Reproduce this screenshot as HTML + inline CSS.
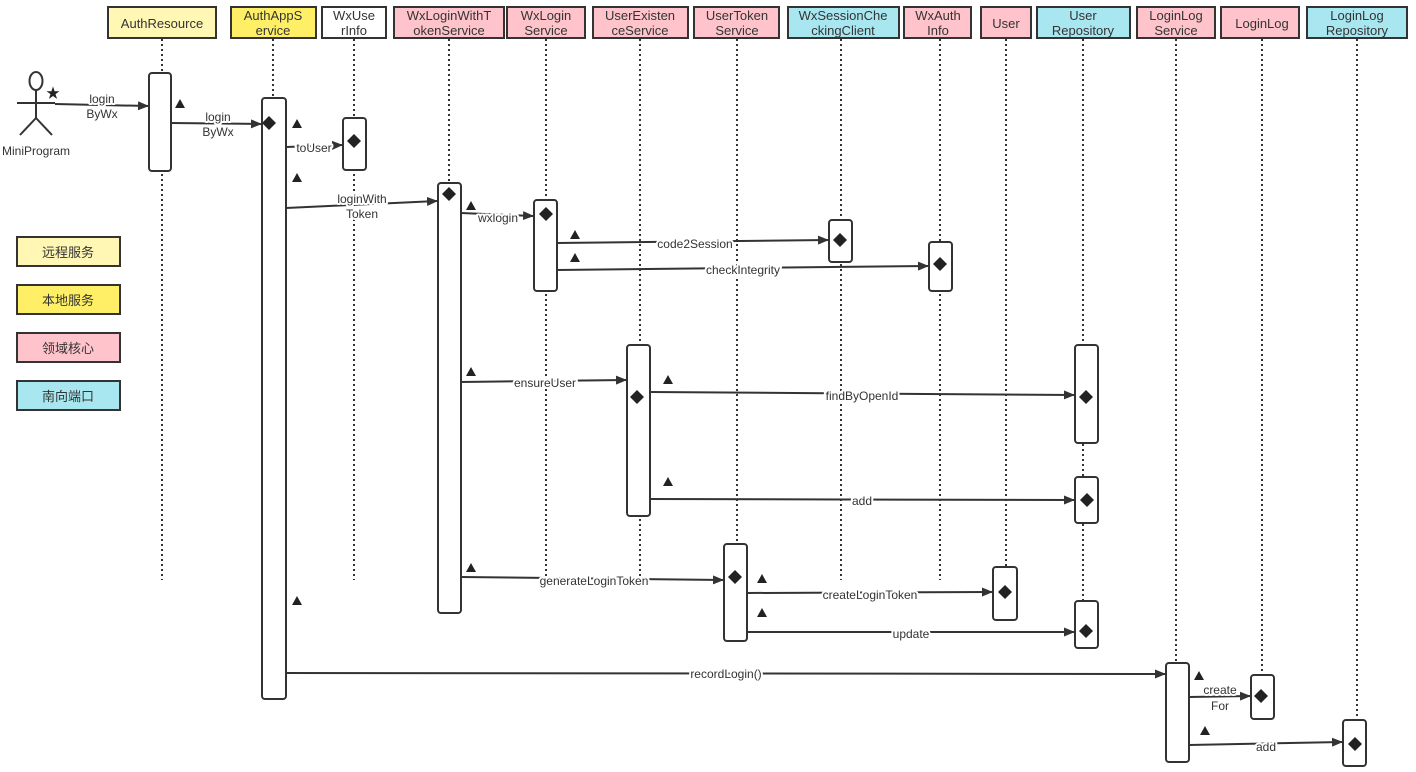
<!DOCTYPE html>
<html><head><meta charset="utf-8"><style>
body{margin:0;background:#fff;}
svg{display:block;font-family:"Liberation Sans","Noto Sans CJK SC",sans-serif;}
.lb text{stroke:#fff;stroke-width:4px;paint-order:stroke;stroke-linejoin:round;}
</style></head><body>
<svg width="1416" height="772" viewBox="0 0 1416 772" xmlns="http://www.w3.org/2000/svg">
<defs>
<marker id="a" markerWidth="11" markerHeight="9" refX="10" refY="4.5" orient="auto" markerUnits="userSpaceOnUse">
<path d="M0,0 L11,4.5 L0,9 z" fill="#333"/></marker>
</defs>
<g stroke="#333" stroke-width="2" stroke-dasharray="2,3">
<line x1="162" y1="39" x2="162" y2="580"/>
<line x1="273" y1="39" x2="273" y2="100"/>
<line x1="354" y1="39" x2="354" y2="580"/>
<line x1="449" y1="39" x2="449" y2="580"/>
<line x1="546" y1="39" x2="546" y2="580"/>
<line x1="640" y1="39" x2="640" y2="580"/>
<line x1="737" y1="39" x2="737" y2="545"/>
<line x1="841" y1="39" x2="841" y2="580"/>
<line x1="940" y1="39" x2="940" y2="580"/>
<line x1="1006" y1="39" x2="1006" y2="568"/>
<line x1="1083" y1="39" x2="1083" y2="602"/>
<line x1="1176" y1="39" x2="1176" y2="664"/>
<line x1="1262" y1="39" x2="1262" y2="676"/>
<line x1="1357" y1="39" x2="1357" y2="721"/>
</g>
<g stroke="#333" stroke-width="2" font-size="13" fill="#333" text-anchor="middle">
<rect x="108" y="7" width="108" height="31" fill="#fff7b3"/><text x="162" y="28" stroke="none">AuthResource</text>
<rect x="231" y="7" width="85" height="31" fill="#ffef66"/><text x="273" y="20" stroke="none">AuthAppS</text><text x="273" y="35" stroke="none">ervice</text>
<rect x="322" y="7" width="64" height="31" fill="#fff"/><text x="354" y="20" stroke="none">WxUse</text><text x="354" y="35" stroke="none">rInfo</text>
<rect x="394" y="7" width="110" height="31" fill="#ffc4cb"/><text x="449" y="20" stroke="none">WxLoginWithT</text><text x="449" y="35" stroke="none">okenService</text>
<rect x="507" y="7" width="78" height="31" fill="#ffc4cb"/><text x="546" y="20" stroke="none">WxLogin</text><text x="546" y="35" stroke="none">Service</text>
<rect x="593" y="7" width="95" height="31" fill="#ffc4cb"/><text x="640" y="20" stroke="none">UserExisten</text><text x="640" y="35" stroke="none">ceService</text>
<rect x="694" y="7" width="85" height="31" fill="#ffc4cb"/><text x="737" y="20" stroke="none">UserToken</text><text x="737" y="35" stroke="none">Service</text>
<rect x="788" y="7" width="111" height="31" fill="#a9e7f0"/><text x="843" y="20" stroke="none">WxSessionChe</text><text x="843" y="35" stroke="none">ckingClient</text>
<rect x="904" y="7" width="67" height="31" fill="#ffc4cb"/><text x="938" y="20" stroke="none">WxAuth</text><text x="938" y="35" stroke="none">Info</text>
<rect x="981" y="7" width="50" height="31" fill="#ffc4cb"/><text x="1006" y="28" stroke="none">User</text>
<rect x="1037" y="7" width="93" height="31" fill="#a9e7f0"/><text x="1083" y="20" stroke="none">User</text><text x="1083" y="35" stroke="none">Repository</text>
<rect x="1137" y="7" width="78" height="31" fill="#ffc4cb"/><text x="1176" y="20" stroke="none">LoginLog</text><text x="1176" y="35" stroke="none">Service</text>
<rect x="1221" y="7" width="78" height="31" fill="#ffc4cb"/><text x="1262" y="28" stroke="none">LoginLog</text>
<rect x="1307" y="7" width="100" height="31" fill="#a9e7f0"/><text x="1357" y="20" stroke="none">LoginLog</text><text x="1357" y="35" stroke="none">Repository</text>
</g>
<g stroke="#333" stroke-width="2" font-size="13" fill="#333" text-anchor="middle">
<rect x="17" y="237" width="103" height="29" fill="#fff7b3"/><text x="68" y="257" stroke="none">远程服务</text>
<rect x="17" y="285" width="103" height="29" fill="#ffef66"/><text x="68" y="305" stroke="none">本地服务</text>
<rect x="17" y="333" width="103" height="29" fill="#ffc4cb"/><text x="68" y="353" stroke="none">领域核心</text>
<rect x="17" y="381" width="103" height="29" fill="#a9e7f0"/><text x="68" y="401" stroke="none">南向端口</text>
</g>
<g stroke="#333" stroke-width="2" fill="none">
<ellipse cx="36" cy="81" rx="6.5" ry="9"/>
<line x1="36" y1="90" x2="36" y2="118"/>
<line x1="17" y1="103" x2="55" y2="103"/>
<line x1="36" y1="118" x2="20" y2="135"/>
<line x1="36" y1="118" x2="52" y2="135"/>
</g>
<text x="53" y="98" font-size="14" text-anchor="middle" fill="#222">★</text>
<text x="36" y="155" font-size="12" text-anchor="middle" fill="#333">MiniProgram</text>
<g stroke="#333" stroke-width="2" fill="#fff">
<rect x="149" y="73" width="22" height="98" rx="3"/>
<rect x="262" y="98" width="24" height="601" rx="3"/>
<rect x="343" y="118" width="23" height="52" rx="3"/>
<rect x="438" y="183" width="23" height="430" rx="3"/>
<rect x="534" y="200" width="23" height="91" rx="3"/>
<rect x="829" y="220" width="23" height="42" rx="3"/>
<rect x="929" y="242" width="23" height="49" rx="3"/>
<rect x="627" y="345" width="23" height="171" rx="3"/>
<rect x="1075" y="345" width="23" height="98" rx="3"/>
<rect x="1075" y="477" width="23" height="46" rx="3"/>
<rect x="1075" y="601" width="23" height="47" rx="3"/>
<rect x="724" y="544" width="23" height="97" rx="3"/>
<rect x="993" y="567" width="24" height="53" rx="3"/>
<rect x="1166" y="663" width="23" height="99" rx="3"/>
<rect x="1251" y="675" width="23" height="44" rx="3"/>
<rect x="1343" y="720" width="23" height="46" rx="3"/>
</g>
<g fill="#222">
<path d="M269,116 l7,7 l-7,7 l-7,-7z"/>
<path d="M354,134 l7,7 l-7,7 l-7,-7z"/>
<path d="M449,187 l7,7 l-7,7 l-7,-7z"/>
<path d="M546,207 l7,7 l-7,7 l-7,-7z"/>
<path d="M840,233 l7,7 l-7,7 l-7,-7z"/>
<path d="M940,257 l7,7 l-7,7 l-7,-7z"/>
<path d="M637,390 l7,7 l-7,7 l-7,-7z"/>
<path d="M1086,390 l7,7 l-7,7 l-7,-7z"/>
<path d="M1087,493 l7,7 l-7,7 l-7,-7z"/>
<path d="M1086,624 l7,7 l-7,7 l-7,-7z"/>
<path d="M735,570 l7,7 l-7,7 l-7,-7z"/>
<path d="M1005,585 l7,7 l-7,7 l-7,-7z"/>
<path d="M1261,689 l7,7 l-7,7 l-7,-7z"/>
<path d="M1355,737 l7,7 l-7,7 l-7,-7z"/>
</g>
<g stroke="#333" stroke-width="2" fill="none" marker-end="url(#a)">
<line x1="55" y1="104" x2="148" y2="106"/>
<line x1="171" y1="123" x2="261" y2="124"/>
<line x1="286" y1="147" x2="342" y2="145"/>
<line x1="286" y1="208" x2="437" y2="201"/>
<line x1="461" y1="213" x2="533" y2="216"/>
<line x1="557" y1="243" x2="828" y2="240"/>
<line x1="557" y1="270" x2="928" y2="266"/>
<line x1="461" y1="382" x2="626" y2="380"/>
<line x1="650" y1="392" x2="1074" y2="395"/>
<line x1="650" y1="499" x2="1074" y2="500"/>
<line x1="461" y1="577" x2="723" y2="580"/>
<line x1="747" y1="593" x2="992" y2="592"/>
<line x1="747" y1="632" x2="1074" y2="632"/>
<line x1="286" y1="673" x2="1165" y2="674"/>
<line x1="1189" y1="697" x2="1250" y2="696"/>
<line x1="1189" y1="745" x2="1342" y2="742"/>
</g>
<g class="lb" font-size="12" fill="#333" text-anchor="middle">
<text x="102" y="103">login</text><text x="102" y="118">ByWx</text>
<text x="218" y="121">login</text><text x="218" y="136">ByWx</text>
<text x="314" y="152">toUser</text>
<text x="362" y="203">loginWith</text><text x="362" y="218">Token</text>
<text x="498" y="222">wxlogin</text>
<text x="695" y="248">code2Session</text>
<text x="743" y="274">checkIntegrity</text>
<text x="545" y="387">ensureUser</text>
<text x="862" y="400">findByOpenId</text>
<text x="862" y="505">add</text>
<text x="594" y="585">generateLoginToken</text>
<text x="870" y="599">createLoginToken</text>
<text x="911" y="638">update</text>
<text x="726" y="678">recordLogin()</text>
<text x="1220" y="694">create</text><text x="1220" y="710">For</text>
<text x="1266" y="751">add</text>
</g>
<g fill="#222">
<path d="M180,99 l5,9 h-10z"/>
<path d="M297,119 l5,9 h-10z"/>
<path d="M297,173 l5,9 h-10z"/>
<path d="M471,201 l5,9 h-10z"/>
<path d="M575,230 l5,9 h-10z"/>
<path d="M575,253 l5,9 h-10z"/>
<path d="M471,367 l5,9 h-10z"/>
<path d="M668,375 l5,9 h-10z"/>
<path d="M668,477 l5,9 h-10z"/>
<path d="M471,563 l5,9 h-10z"/>
<path d="M762,574 l5,9 h-10z"/>
<path d="M762,608 l5,9 h-10z"/>
<path d="M297,596 l5,9 h-10z"/>
<path d="M1199,671 l5,9 h-10z"/>
<path d="M1205,726 l5,9 h-10z"/>
</g>
</svg>
</body></html>
